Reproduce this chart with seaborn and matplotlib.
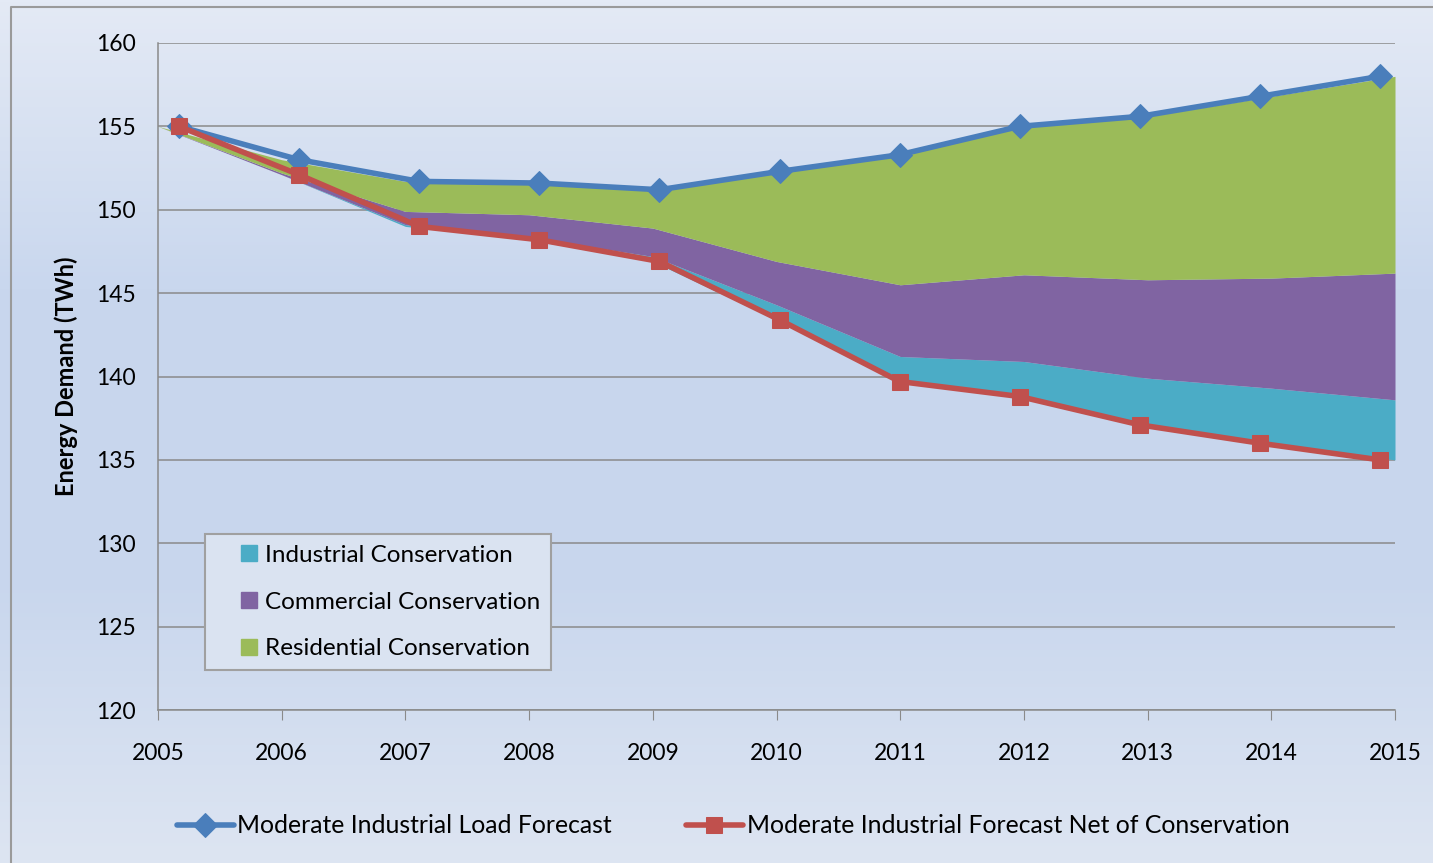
import numpy as np
import pandas as pd
import matplotlib
matplotlib.use('Agg')
import matplotlib.pyplot as plt
import seaborn as sns
from matplotlib.lines import Line2D
from matplotlib.colors import LinearSegmentedColormap

# values (TWh)
years = list(range(2005, 2016))
load_forecast = [155.0, 153.0, 151.7, 151.6, 151.2, 152.3, 153.3, 155.0, 155.6, 156.8, 158.0]
net_forecast = [155.0, 152.1, 149.0, 148.2, 146.9, 143.4, 139.7, 138.8, 137.1, 136.0, 135.0]
industrial = [0.0, 0.0, 0.1, 0.15, 0.3, 0.9, 1.5, 2.1, 2.8, 3.3, 3.6]
commercial = [0.0, 0.1, 0.8, 1.35, 1.7, 2.6, 4.3, 5.2, 5.9, 6.6, 7.6]
residential = [0.0, 0.8, 1.8, 1.9, 2.3, 5.4, 7.8, 8.9, 9.8, 10.9, 11.8]

area_labels = ['Industrial Conservation', 'Commercial Conservation', 'Residential Conservation']
line_labels = ['Moderate Industrial Load Forecast', 'Moderate Industrial Forecast Net of Conservation']

BLUE, RED = '#4a7ebb', '#c0504d'
TEAL, PURPLE, GREEN = '#4bacc6', '#8064a2', '#9bbb59'

sns.set_style('white')
plt.rcParams['font.family'] = ['Lato', 'DejaVu Sans']
plt.rcParams['text.color'] = 'black'
plt.rcParams['axes.labelcolor'] = 'black'
plt.rcParams['xtick.color'] = 'black'
plt.rcParams['ytick.color'] = 'black'

fig = plt.figure(figsize=(14.33, 8.63), dpi=100)

# gradient background like the Excel chart area
bg = fig.add_axes([0, 0, 1, 1], zorder=-10)
grad = LinearSegmentedColormap.from_list('bg', ['#e4eaf5', '#c9d7ee', '#c8d6ed', '#dde5f2'])
bg.imshow(np.linspace(0, 1, 256).reshape(-1, 1), aspect='auto', cmap=grad, extent=[0, 1, 0, 1])
bg.plot([11 / 1433, 11 / 1433, 1], [0, 1 - 7 / 863, 1 - 7 / 863], color='#9a9a9a', lw=1.5)
bg.set_xlim(0, 1)
bg.set_ylim(0, 1)
bg.axis('off')

ax = fig.add_axes([158 / 1433, 1 - 710 / 863, 1237 / 1433, 667 / 863])
ax.patch.set_alpha(0)

polys = ax.stackplot(years, net_forecast, industrial, commercial, residential,
                     colors=['none', TEAL, PURPLE, GREEN], linewidth=0, zorder=2)
polys[0].set_visible(False)

ax.set_xlim(2005, 2015)
ax.set_ylim(120, 160)
ax.set_yticks(range(120, 161, 5))
ax.set_xticks(years)
ax.grid(axis='y', color='#8a8a8a', lw=1.1, zorder=0)
ax.set_axisbelow(True)
for s in ['top', 'right']:
    ax.spines[s].set_visible(False)
for s in ['left', 'bottom']:
    ax.spines[s].set_color('#8a8a8a')
    ax.spines[s].set_linewidth(1.1)
ax.tick_params(axis='x', direction='out', length=7, color='#8a8a8a', labelcolor='black', pad=17, labelsize=16.5)
ax.tick_params(axis='y', direction='out', length=6, color='#8a8a8a', labelcolor='black', pad=10, labelsize=16.5)
ax.set_ylabel('Energy Demand (TWh)', fontsize=17, fontweight='bold', labelpad=13)

# the two forecast lines sit on a slightly narrower category axis
ax2 = ax.twiny()
ax2.set_xlim(2005 - 0.175, 2015 + 0.125)
df = pd.DataFrame({'Year': years, 'Load': load_forecast, 'Net': net_forecast})
sns.lineplot(data=df, x='Year', y='Load', ax=ax2, color=BLUE, lw=4, marker='D',
             markersize=12, markeredgecolor=BLUE, label=line_labels[0], legend=False)
sns.lineplot(data=df, x='Year', y='Net', ax=ax2, color=RED, lw=4, marker='s',
             markersize=12, markeredgecolor=RED, label=line_labels[1], legend=False)
ax2.set_ylim(120, 160)
ax2.set_xticks([])
ax2.set_xlabel('')
ax2.set_ylabel('')
for s in ax2.spines.values():
    s.set_visible(False)

handles = [Line2D([], [], ls='none', marker='s', markersize=11, color=c) for c in [TEAL, PURPLE, GREEN]]
leg = ax.legend(handles, area_labels, loc='lower left', bbox_to_anchor=(47 / 1237, 40 / 667),
                fontsize=17.5, frameon=True, fancybox=False, edgecolor='#a0a0a0',
                facecolor='#dae3f1', framealpha=1, handlelength=2.7, handletextpad=-0.7,
                labelspacing=1.05, borderpad=0.45, borderaxespad=0)
leg.get_frame().set_linewidth(1.5)

lh, ll = ax2.get_legend_handles_labels()
fig.legend(lh, ll, loc='center', bbox_to_anchor=(0.5115, 0.043), ncol=2, frameon=False,
           fontsize=17.8, handlelength=2.3, handletextpad=0.15, columnspacing=3.0)

fig.savefig('out.png', dpi=100)
